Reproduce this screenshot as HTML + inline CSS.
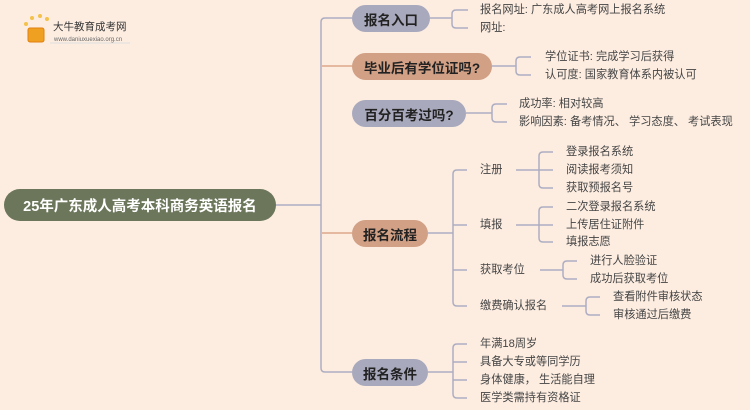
<!DOCTYPE html>
<html><head><meta charset="utf-8"><style>
html,body{margin:0;padding:0;}
body{width:750px;height:410px;background:#fdede1;position:relative;overflow:hidden;font-family:"Liberation Sans","Noto Sans CJK SC",sans-serif;}
.t{position:absolute;font-size:11.2px;color:#444;line-height:14px;white-space:nowrap;}
.p{position:absolute;border-radius:14px;font-weight:bold;font-size:13.5px;color:#222;display:flex;align-items:center;justify-content:center;white-space:nowrap;}
.g{background:#a9a9bd;}.b{background:#d1a085;}
</style></head><body>
<svg width="750" height="410" style="position:absolute;left:0;top:0" fill="none" stroke-width="1.5">
<g stroke="#adadc2">
<path d="M276 205 H321"/>
<path d="M352 18 H325 Q321 18 321 22 V368 Q321 372 325 372 H352"/>
<path d="M430 18 H452 M468 10 H456 Q452 10 452 14 V24 Q452 28 456 28 H468"/>
<path d="M492 66 H516 M531 57 H520 Q516 57 516 61 V71 Q516 75 520 75 H531"/>
<path d="M466 113 H492 M507 104 H496 Q492 104 492 108 V118 Q492 122 496 122 H507"/>
<path d="M428 233 H453 M467 170 H457 Q453 170 453 174 V302 Q453 306 457 306 H467 M453 225 H467 M453 270 H467"/>
<path d="M516 170 H540 M553 152 H543 Q539 152 539 156 V184 Q539 188 543 188 H553 M539 170 H553"/>
<path d="M516 225 H540 M553 207 H543 Q539 207 539 211 V238 Q539 242 543 242 H553 M539 225 H553"/>
<path d="M540 270 H563 M577 261 H567 Q563 261 563 265 V275 Q563 279 567 279 H577"/>
<path d="M562 306 H586 M600 297 H590 Q586 297 586 301 V311 Q586 315 590 315 H600"/>
<path d="M428 372 H453 M467 344 H457 Q453 344 453 348 V394 Q453 398 457 398 H467 M453 362 H467 M453 380 H467"/>
</g>
<g stroke="#dca88a"><path d="M322 66 H352 M322 233 H352"/></g>
<circle cx="26" cy="24" r="2" fill="#f4c24a" stroke="none"/><circle cx="32" cy="18" r="2" fill="#f4c24a" stroke="none"/><circle cx="40" cy="16" r="2" fill="#f4c24a" stroke="none"/><circle cx="47" cy="19" r="2" fill="#f4c24a" stroke="none"/>
<rect x="28" y="28" width="16" height="14" rx="2" fill="#f0a020" stroke="#e08010" stroke-width="1"/>
<line x1="50" y1="43" x2="130" y2="43" stroke="#ddd" stroke-width="1"/>
</svg>
<div class="t" style="left:53px;top:20px;font-size:10.5px;color:#333">大牛教育成考网</div>
<div class="t" style="left:54px;top:33px;font-size:6px;color:#666">www.daniuxuexiao.org.cn</div>
<div class="p" style="left:4px;top:189px;width:272px;height:32px;border-radius:16px;background:#6b765a;color:#fff;font-size:14.5px">25年广东成人高考本科商务英语报名</div>
<div class="p g" style="left:352px;top:5px;width:78px;height:27px">报名入口</div>
<div class="p b" style="left:352px;top:53px;width:140px;height:27px">毕业后有学位证吗?</div>
<div class="p g" style="left:352px;top:100px;width:114px;height:27px">百分百考过吗?</div>
<div class="p b" style="left:352px;top:220px;width:76px;height:27px">报名流程</div>
<div class="p g" style="left:352px;top:359px;width:76px;height:27px">报名条件</div>
<div class="t" style="left:480px;top:3px">报名网址: 广东成人高考网上报名系统</div>
<div class="t" style="left:480px;top:21px">网址:</div>
<div class="t" style="left:545px;top:50px">学位证书: 完成学习后获得</div>
<div class="t" style="left:545px;top:68px">认可度: 国家教育体系内被认可</div>
<div class="t" style="left:519px;top:97px">成功率: 相对较高</div>
<div class="t" style="left:519px;top:115px">影响因素: 备考情况、 学习态度、 考试表现</div>
<div class="t" style="left:480px;top:163px">注册</div>
<div class="t" style="left:480px;top:218px">填报</div>
<div class="t" style="left:480px;top:263px">获取考位</div>
<div class="t" style="left:480px;top:299px">缴费确认报名</div>
<div class="t" style="left:566px;top:145px">登录报名系统</div>
<div class="t" style="left:566px;top:163px">阅读报考须知</div>
<div class="t" style="left:566px;top:181px">获取预报名号</div>
<div class="t" style="left:566px;top:200px">二次登录报名系统</div>
<div class="t" style="left:566px;top:218px">上传居住证附件</div>
<div class="t" style="left:566px;top:235px">填报志愿</div>
<div class="t" style="left:590px;top:254px">进行人脸验证</div>
<div class="t" style="left:590px;top:272px">成功后获取考位</div>
<div class="t" style="left:613px;top:290px">查看附件审核状态</div>
<div class="t" style="left:613px;top:308px">审核通过后缴费</div>
<div class="t" style="left:480px;top:337px">年满18周岁</div>
<div class="t" style="left:480px;top:355px">具备大专或等同学历</div>
<div class="t" style="left:480px;top:373px">身体健康， 生活能自理</div>
<div class="t" style="left:480px;top:391px">医学类需持有资格证</div>
</body></html>
